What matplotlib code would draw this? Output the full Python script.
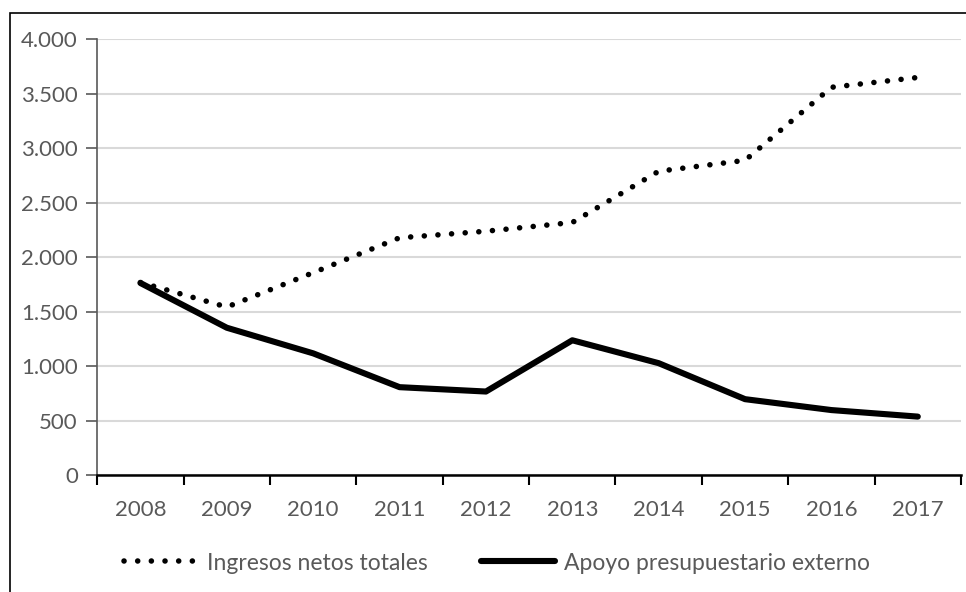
import numpy as np
import matplotlib
matplotlib.use("Agg")
from matplotlib import pyplot as plt
from matplotlib.patches import Rectangle

years = ["2008", "2009", "2010", "2011", "2012", "2013", "2014", "2015", "2016", "2017"]
ingresos = [1770, 1545, 1860, 2180, 2240, 2320, 2790, 2890, 3560, 3650]
apoyo = [1765, 1355, 1120, 810, 770, 1240, 1030, 700, 600, 540]
ytick_labels = ["0", "500", "1.000", "1.500", "2.000", "2.500", "3.000", "3.500", "4.000"]

plt.rcParams['font.family'] = ['Lato', 'DejaVu Sans']
gray = '#595959'

fig = plt.figure(figsize=(9.66, 5.92), dpi=100)
ax = fig.add_axes([0.1007, 0.1968, 0.8941, 0.7368])

# outer frame (cropped at right/bottom in the original)
fig.patches.append(Rectangle((9.5 / 966, -0.1), 1.2, 1 - 12.5 / 592 + 0.1,
                             transform=fig.transFigure, fill=False,
                             edgecolor='black', linewidth=1.2))

x = np.arange(len(years))
ax.plot(x, ingresos, color='black', linewidth=4.0, linestyle=(0, (0.01, 2.45)),
        dash_capstyle='round', label='Ingresos netos totales', zorder=3)
ax.plot(x, apoyo, color='black', linewidth=4.4, solid_capstyle='round',
        solid_joinstyle='round', label='Apoyo presupuestario externo', zorder=3)

ax.set_xlim(-0.5, len(years) - 0.5)
ax.set_ylim(0, 4000)
ax.set_yticks(np.arange(0, 4001, 500))
ax.set_yticklabels(ytick_labels)
ax.set_xticks(x)
ax.set_xticklabels(years)
ax.set_xticks(np.arange(-0.5, len(years)), minor=True)
ax.tick_params(axis='x', which='major', length=0, pad=18, labelsize=16, labelcolor=gray)
ax.tick_params(axis='x', which='minor', length=7, width=1.5, color='black', direction='out')
ax.tick_params(axis='y', length=8, width=1.2, color=gray, pad=6, labelsize=16, labelcolor=gray)

ax.grid(axis='y', color='#d9d9d9', linewidth=1.5)
ax.set_axisbelow(True)
for s in ['top', 'right']:
    ax.spines[s].set_visible(False)
ax.spines['left'].set_color(gray)
ax.spines['left'].set_linewidth(1.2)
ax.spines['bottom'].set_color('black')
ax.spines['bottom'].set_linewidth(1.8)

leg = fig.legend(loc='center', bbox_to_anchor=(497 / 966, 1 - 563 / 592), ncol=2,
                 frameon=False, fontsize=16.5, handlelength=3.2, handletextpad=0.4,
                 columnspacing=2.35, labelcolor=gray)

fig.savefig("out.png", dpi=100)
